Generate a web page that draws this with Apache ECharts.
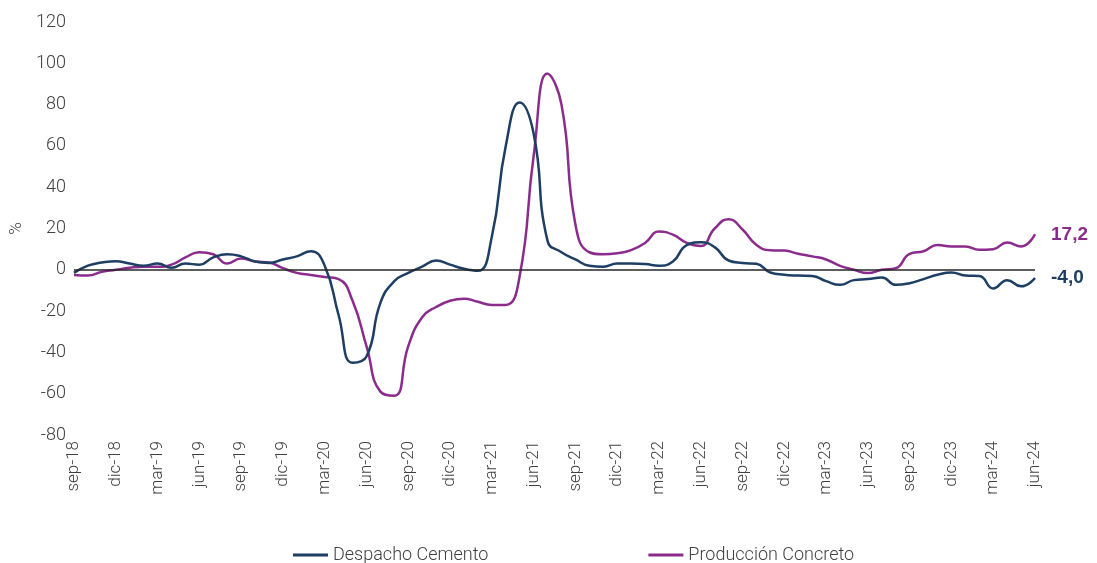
<!DOCTYPE html>
<html>
<head>
    <meta charset="utf-8" />
    <title>Despacho Cemento / Producción Concreto</title>
    <style type="text/css">
        html, body {
            width: 100%;
            height: 100%;
            margin: 0;
            padding: 0;
            background-color: #fff;
            overflow: hidden;
        }

        #chart {
            width: 1097px;
            height: 563px;
        }
    </style>
    <script src="https://cdn.jsdelivr.net/npm/echarts@6/dist/echarts.min.js"></script>
</head>
<body>
    <div id="chart"></div>
    <script type="text/javascript">
        // meses sep-18 .. jun-24
        var months = [
            'sep-18', 'oct-18', 'nov-18', 'dic-18', 'ene-19', 'feb-19', 'mar-19', 'abr-19', 'may-19', 'jun-19', 'jul-19', 'ago-19',
            'sep-19', 'oct-19', 'nov-19', 'dic-19', 'ene-20', 'feb-20', 'mar-20', 'abr-20', 'may-20', 'jun-20', 'jul-20', 'ago-20',
            'sep-20', 'oct-20', 'nov-20', 'dic-20', 'ene-21', 'feb-21', 'mar-21', 'abr-21', 'may-21', 'jun-21', 'jul-21', 'ago-21',
            'sep-21', 'oct-21', 'nov-21', 'dic-21', 'ene-22', 'feb-22', 'mar-22', 'abr-22', 'may-22', 'jun-22', 'jul-22', 'ago-22',
            'sep-22', 'oct-22', 'nov-22', 'dic-22', 'ene-23', 'feb-23', 'mar-23', 'abr-23', 'may-23', 'jun-23', 'jul-23', 'ago-23',
            'sep-23', 'oct-23', 'nov-23', 'dic-23', 'ene-24', 'feb-24', 'mar-24', 'abr-24', 'may-24', 'jun-24'
        ];
        var despachoCemento = [
            -1.5, 2, 3.5, 4.2, 3, 2, 3, 1, 3, 2.5, 6, 7.5,
            6.5, 4, 3.3, 5, 6.5, 9, 2, -22, -45, -42, -16, -5.5,
            -1.5, 1.5, 4.5, 2.5, 0.5, -0.5, 16, 60, 81, 66, 14, 8.5,
            5, 2, 1.5, 3, 3, 2.8, 2, 4, 12, 13.3, 11, 4.5,
            3.3, 2.9, -1.3, -2.4, -2.8, -3, -5.5, -7.3, -5, -4.5, -3.7, -7.3,
            -6.5, -4.5, -2.4, -1.3, -2.8, -3, -9, -5, -8, -4.0
        ];
        var produccionConcreto = [
            -2.5, -2.8, -1, 0, 1, 1.5, 1.5, 2.5, 6, 8.5, 7.5, 3,
            5.5, 4, 3.5, 0.8, -1.5, -2.5, -3.5, -4.5, -15, -37, -59, -61,
            -37, -23, -18, -15, -14, -15.5, -17, -17, -3, 55, 95, 80,
            22, 8.5, 7.5, 8, 9.5, 13, 18.5, 17, 13, 11.5, 20, 24.5,
            19.5, 12, 9.5, 9.3, 7.8, 6.5, 5, 1.9, 0, -1.6, 0, 0.8,
            7.7, 9, 12, 11.3, 11.3, 9.7, 10, 13.2, 11.3, 17.2
        ];
        var yTicks = { min: -80, max: 120, step: 20 };

        var NAVY = '#1F3E64';
        var PURPLE = '#8B2C8C';
        var FONT = 'Roboto, "Liberation Sans", sans-serif';

        var endFmt = function (p) {
            return p.value.toFixed(1).replace('.', ',');
        };

        var option = {
            animation: false,
            textStyle: { fontFamily: FONT },
            grid: { left: 74, right: 62, top: 22, bottom: 128 },
            legend: {
                left: 288,
                top: 541,
                itemGap: 160,
                itemWidth: 35,
                itemHeight: 3,
                icon: 'rect',
                textStyle: { color: '#404040', fontSize: 18, fontWeight: 300, fontFamily: FONT },
                data: ['Despacho Cemento', 'Producción Concreto']
            },
            xAxis: {
                type: 'category',
                data: months,
                boundaryGap: false,
                axisLine: { show: false },
                axisTick: { show: false },
                axisLabel: {
                    interval: 2,
                    rotate: 90,
                    margin: 6,
                    padding: [10, 0, 0, 0],
                    color: '#404040',
                    fontSize: 17,
                    fontWeight: 300
                }
            },
            yAxis: {
                type: 'value',
                min: yTicks.min,
                max: yTicks.max,
                interval: yTicks.step,
                name: '%',
                nameLocation: 'middle',
                nameRotate: 90,
                nameGap: 44,
                nameTextStyle: { color: '#404040', fontSize: 17, fontWeight: 300 },
                splitLine: { show: false },
                axisLine: { show: false },
                axisTick: { show: false },
                axisLabel: { color: '#404040', fontSize: 18, fontWeight: 300, margin: 8 }
            },
            series: [
                {
                    name: 'Despacho Cemento',
                    type: 'line',
                    data: despachoCemento,
                    smooth: 0.5,
                    showSymbol: false,
                    symbol: 'none',
                    lineStyle: { color: NAVY, width: 2.5 },
                    itemStyle: { color: NAVY },
                    endLabel: {
                        show: true,
                        formatter: endFmt,
                        distance: 16,
                        color: NAVY,
                        fontSize: 19,
                        fontWeight: 'bold',
                        fontFamily: '"Liberation Sans", sans-serif'
                    },
                    markLine: {
                        silent: true,
                        symbol: 'none',
                        label: { show: false },
                        lineStyle: { color: '#262626', width: 1.5, type: 'solid' },
                        data: [{ yAxis: 0 }]
                    },
                    z: 3
                },
                {
                    name: 'Producción Concreto',
                    type: 'line',
                    data: produccionConcreto,
                    smooth: 0.5,
                    showSymbol: false,
                    symbol: 'none',
                    lineStyle: { color: PURPLE, width: 2.5 },
                    itemStyle: { color: PURPLE },
                    endLabel: {
                        show: true,
                        formatter: endFmt,
                        distance: 16,
                        color: PURPLE,
                        fontSize: 19,
                        fontWeight: 'bold',
                        fontFamily: '"Liberation Sans", sans-serif'
                    },
                    z: 2
                }
            ]
        };

        var myChart = echarts.init(document.getElementById('chart'), null, { renderer: 'canvas' });
        myChart.setOption(option);
        window.onresize = myChart.resize;
    </script>
</body>
</html>
